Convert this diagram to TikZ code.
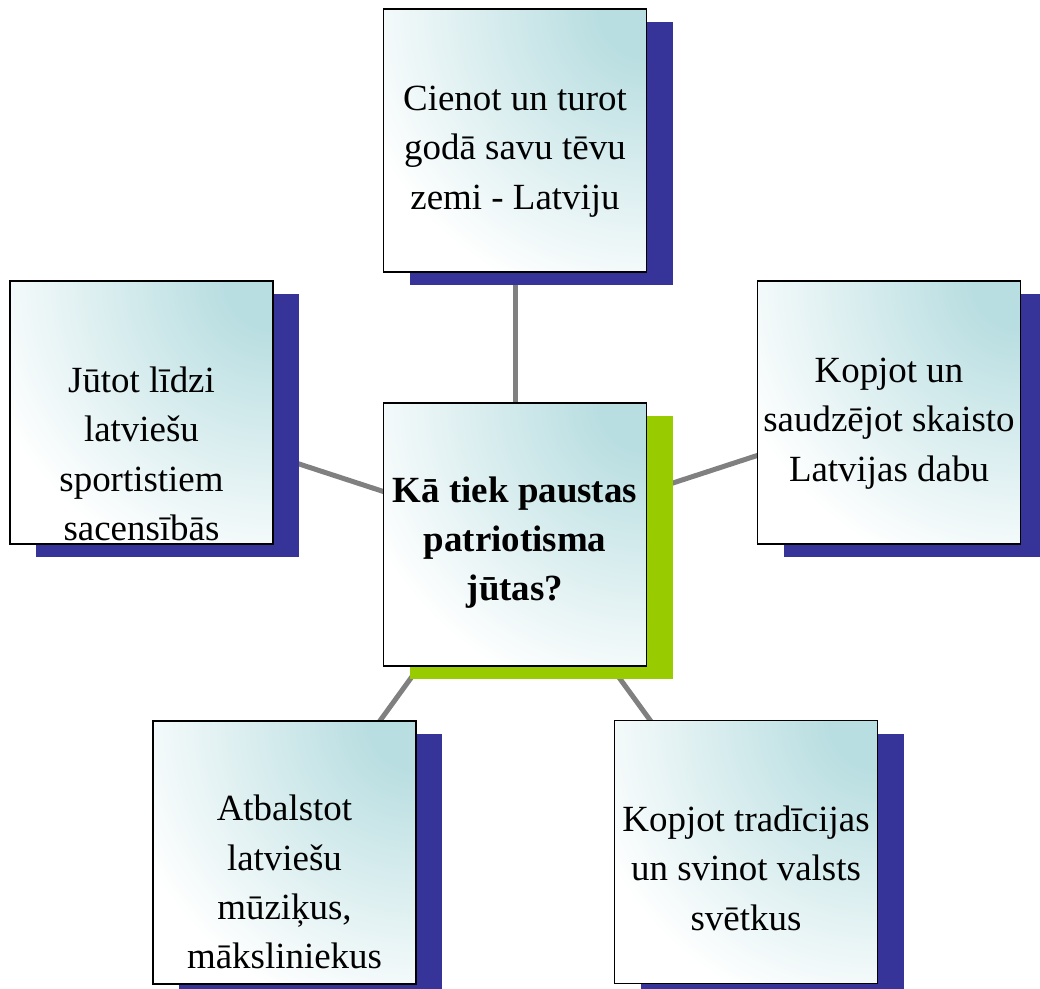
\documentclass[tikz,border=0pt]{standalone}
\usepackage{fontspec}
\setmainfont{Liberation Serif}
\usetikzlibrary{shadows}
\pgfdeclarelayer{bg}
\pgfsetlayers{bg,main}
\definecolor{tealc}{RGB}{185,222,225}
\definecolor{shblue}{RGB}{54,51,153}
\definecolor{shgreen}{RGB}{153,204,0}
\definecolor{linkgray}{RGB}{128,128,128}
\pgfdeclareradialshading{cornerglow}{\pgfpoint{0bp}{0bp}}{color(0bp)=(tealc); color(4bp)=(tealc); color(25bp)=(white); color(50bp)=(white)}
\tikzset{
  card/.style={draw=black, fill=white, line width=1.4pt, minimum width=197.25pt, minimum height=197.25pt, inner sep=0pt,
    path picture={\shade[shading=cornerglow] (path picture bounding box.north east) circle (228pt);},
    drop shadow={shadow xshift=19.5pt, shadow yshift=-9.75pt, fill=#1, opacity=1}},
  card/.default=shblue,
  cardtext/.style={align=center, inner sep=0pt, font=\fontsize{27.7}{37}\selectfont},
  link/.style={draw=linkgray, line width=3.75pt}
}
\begin{document}
\begin{tikzpicture}[x=0.75pt,y=-0.75pt]
\useasboundingbox (0,0) rectangle (1040,989);
% boxes
\node[card] (topB) at (515,140.5) {};
\node[card] (leftB) at (141.5,412.5) {};
\node[card] (rightB) at (889,412.5) {};
\node[card=shgreen] (hub) at (515,534.5) {};
\node[card] (blB) at (284.5,852.5) {};
\node[card] (brB) at (746,852) {};
% connectors behind
\begin{pgfonlayer}{bg}
\draw[link] (hub.center) -- (topB.center);
\draw[link] (hub.center) -- (leftB.center);
\draw[link] (hub.center) -- (rightB.center);
\draw[link] (hub.center) -- (blB.center);
\draw[link] (hub.center) -- (brB.center);
\end{pgfonlayer}
% texts
\node[cardtext] (topT) at (515,150) {\strut Cienot un turot\\\strut godā savu tēvu\\\strut zemi - Latviju};
\node[cardtext] (leftT) at (141.5,456.5) {\strut Jūtot līdzi\\\strut latviešu\\\strut sportistiem\\\strut sacensībās};
\node[cardtext] (rightT) at (889,422) {\strut Kopjot un\\\strut saudzējot skaisto\\\strut Latvijas dabu};
\node[cardtext, font=\fontsize{27.7}{37}\selectfont\bfseries] (hubT) at (515,541.5) {\strut Kā tiek paustas\\\strut patriotisma\\\strut jūtas?};
\node[cardtext] (blT) at (284.5,885) {\strut Atbalstot\\\strut latviešu\\\strut mūziķus,\\\strut māksliniekus};
\node[cardtext] (brT) at (746,871) {\strut Kopjot tradīcijas\\\strut un svinot valsts\\\strut svētkus};
\end{tikzpicture}
\end{document}
